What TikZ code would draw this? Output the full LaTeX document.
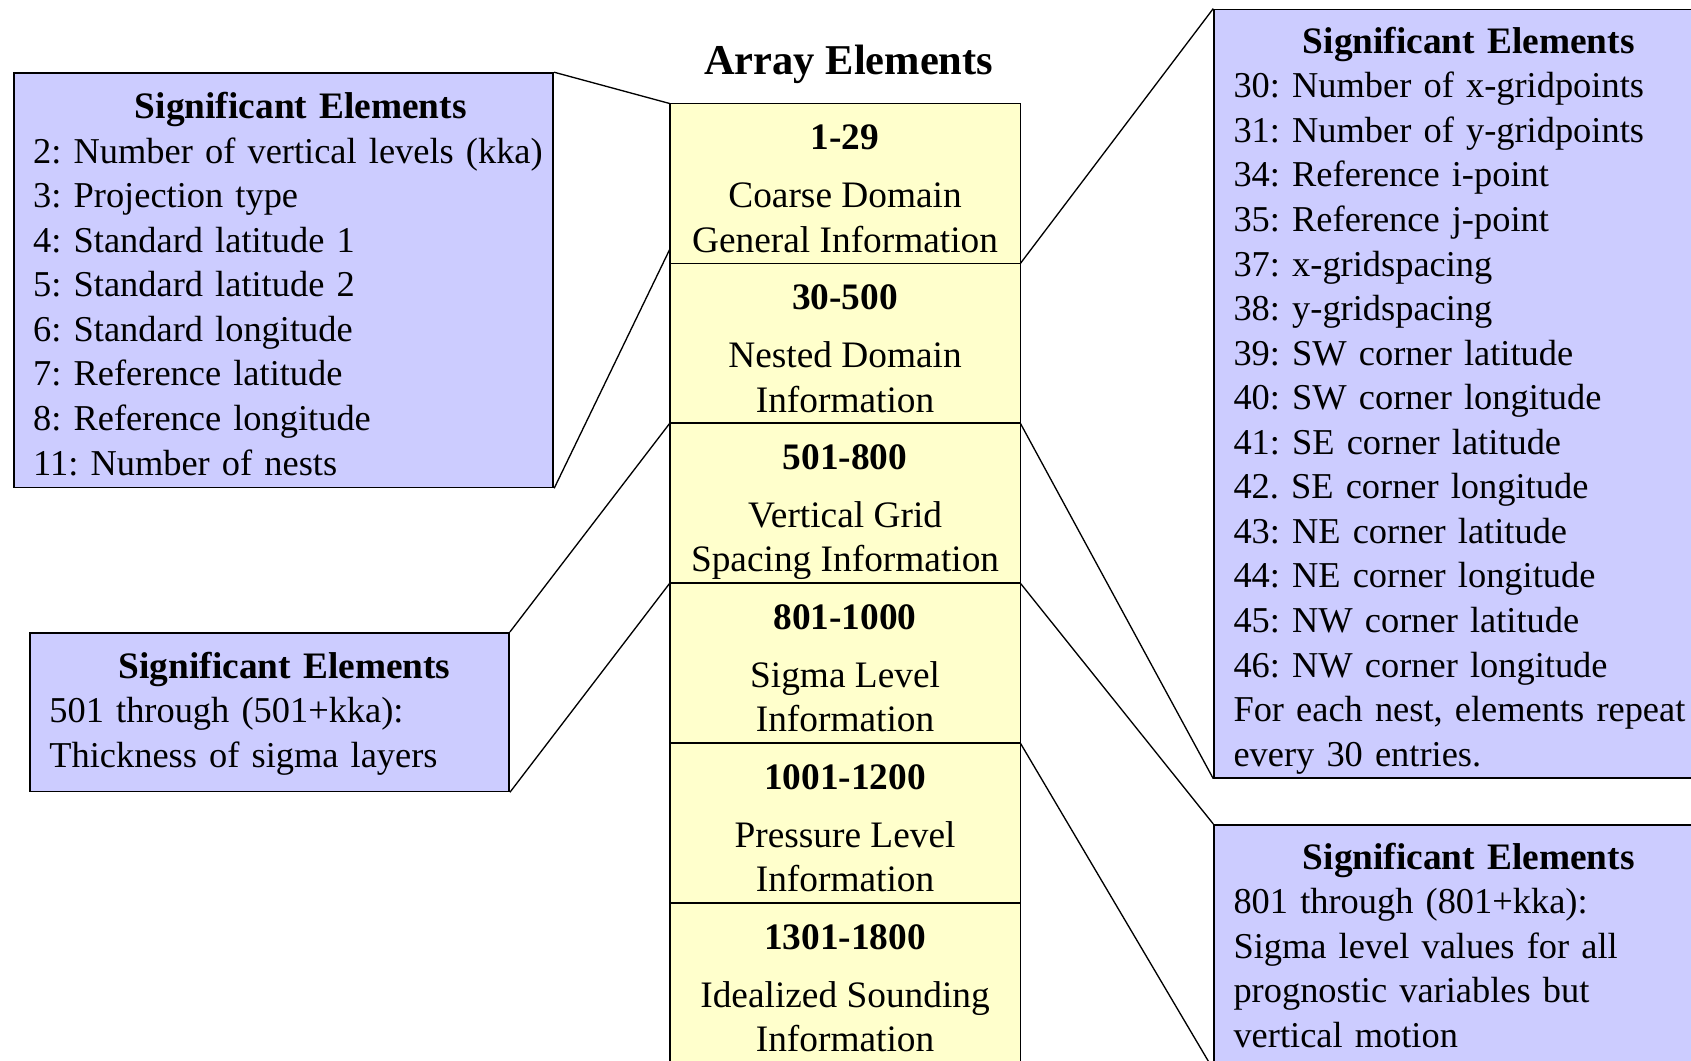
\documentclass[tikz,border=0pt]{standalone}
\usepackage{fontspec}
\setmainfont{Liberation Serif}
\usepackage{tikz}
\usetikzlibrary{positioning}
\definecolor{sigblue}{RGB}{204,204,255}
\definecolor{rowyellow}{RGB}{255,255,204}
\newcommand{\rowfont}{\fontsize{9.85}{11.75}\selectfont}
\newcommand{\sigfont}{\fontsize{9.6}{11.75}\selectfont\frenchspacing}
\newcommand{\dpfix}{\rule[-2.2pt]{0pt}{2.2pt}}
\newcommand{\sighead}[2]{\rule{0pt}{#2}\makebox[\linewidth]{\hspace{#1}%
  \fontsize{9.85}{11.75}\selectfont\textbf{Significant Elements}}}
\newcommand{\rowtext}[3]{\rule{0pt}{11.4pt}\textbf{#1}\\[3.5pt]#2\\#3\dpfix}
\tikzstyle{sigbox}  = [rectangle, draw, fill=sigblue, line width=0.45pt,
                       anchor=north west, align=left, inner xsep=0.18cm,
                       inner ysep=0pt, font=\sigfont]
\tikzstyle{rowbox}  = [rectangle, draw, fill=rowyellow, line width=0.45pt,
                       align=center, minimum width=3.25cm, minimum height=1.482cm,
                       inner sep=0pt, outer sep=0pt, font=\rowfont]
\tikzstyle{link}    = [line width=0.35pt]

\begin{document}
\begin{tikzpicture}[x=0.01cm, y=-0.01cm]
\clip (0,0) rectangle (1568,983);
% Array column
\node[font=\fontsize{11.2}{13}\selectfont\bfseries] (title) at (787,60) {Array Elements};
\node[rowbox, anchor=north west] (r1) at (621,96)
  {\rowtext{1-29}{Coarse Domain}{General Information}};
\node[rowbox, below=0pt of r1] (r2) {\rowtext{30-500}{Nested Domain}{Information}};
\node[rowbox, below=0pt of r2] (r3) {\rowtext{501-800}{Vertical Grid}{Spacing Information}};
\node[rowbox, below=0pt of r3] (r4) {\rowtext{801-1000}{Sigma Level}{Information}};
\node[rowbox, below=0pt of r4] (r5) {\rowtext{1001-1200}{Pressure Level}{Information}};
\node[rowbox, below=0pt of r5] (r6) {\rowtext{1301-1800}{Idealized Sounding}{Information}};
% Left boxes
\node[sigbox, text width=4.64cm, minimum height=3.84cm] (lt) at (12,67)
  {\sighead{0.32cm}{10.9pt}\\\mbox{2: Number of vertical levels (kka)}\\3: Projection type\\
   4: Standard latitude 1\\5: Standard latitude 2\\6: Standard longitude\\
   7: Reference latitude\\8: Reference longitude\\11: Number of nests\dpfix};
\node[sigbox, text width=4.08cm, minimum height=1.47cm] (lb) at (27,586)
  {\sighead{0.28cm}{7.8pt}\\501 through (501+kka):\\Thickness of sigma layers\dpfix};
% Right boxes
\node[sigbox, text width=4.30cm, minimum height=7.12cm] (rt) at (1125,8)
  {\sighead{0.06cm}{10.7pt}\\30: Number of x-gridpoints\\31: Number of y-gridpoints\\
   34: Reference i-point\\35: Reference j-point\\37: x-gridspacing\\38: y-gridspacing\\
   39: SW corner latitude\\40: SW corner longitude\\41: SE corner latitude\\
   42. SE corner longitude\\43: NE corner latitude\\44: NE corner longitude\\
   45: NW corner latitude\\46: NW corner longitude\\
   For each nest, elements repeat\\every 30 entries.\dpfix};
\node[sigbox, text width=4.30cm, minimum height=2.26cm] (rb) at (1125,764)
  {\sighead{0.06cm}{8.3pt}\\801 through (801+kka):\\Sigma level values for all\\
   prognostic variables but\\vertical motion\dpfix};
% Links
\draw[link] (lt.north east) -- (r1.north west);
\draw[link] (lt.south east) -- ([yshift=0.13cm]r1.south west);
\draw[link] (lb.north east) -- (r3.north west);
\draw[link] (lb.south east) -- (r4.north west);
\draw[link] (r1.south east) -- (rt.north west);
\draw[link] (r3.north east) -- (rt.south west);
\draw[link] (r4.north east) -- (rb.north west);
\draw[link] (r5.north east) -- (rb.south west);
\end{tikzpicture}
\end{document}
